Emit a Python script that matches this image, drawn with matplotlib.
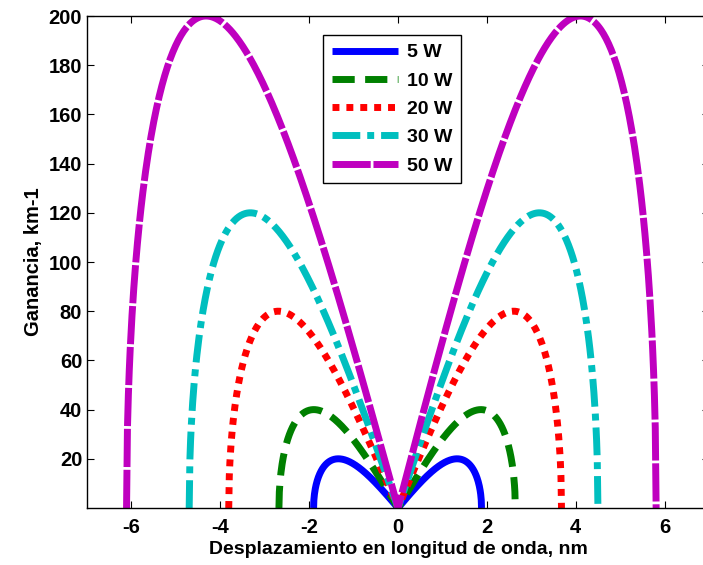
import matplotlib
matplotlib.use("Agg")
import matplotlib.pyplot as plt
import numpy as np

# pump powers and the measured gain lobes (left / right cutoff in nm, peak gain in km-1)
LABELS = ["5 W", "10 W", "20 W", "30 W", "50 W"]
PEAK_GAIN = [20, 40, 80, 120, 200]
CUTOFF_LEFT = [-1.90, -2.68, -3.81, -4.70, -6.11]
CUTOFF_RIGHT = [1.88, 2.64, 3.68, 4.50, 5.81]

COLORS = ["#0000ff", "#008000", "#ff0000", "#00bfbf", "#bf00bf"]
DASHES = [None, (3.2, 1.5), (1.0, 1.0), (4.0, 1.0, 1.0, 1.0), (5.5, 0.4)]

X_TICKS = [-6, -4, -2, 0, 2, 4, 6]
Y_TICKS = [20, 40, 60, 80, 100, 120, 140, 160, 180, 200]


def mi_lobe(x, cutoff, peak):
    # modulation-instability gain shape: |x| * sqrt(xc^2 - x^2), scaled to the peak value
    k = 2.0 * peak / cutoff ** 2
    return k * np.abs(x) * np.sqrt(np.clip(cutoff ** 2 - x ** 2, 0, None))


plt.rcParams["font.family"] = ["Liberation Sans", "DejaVu Sans"]
plt.rcParams["font.weight"] = "bold"
plt.rcParams["axes.unicode_minus"] = False

fig = plt.figure(figsize=(7.03, 5.65), dpi=100)
ax = fig.add_axes([87 / 703, 57 / 565, 622 / 703, 492 / 565])

for label, g0, xl, xr, color, dash in zip(
    LABELS, PEAK_GAIN, CUTOFF_LEFT, CUTOFF_RIGHT, COLORS, DASHES
):
    x_left = np.linspace(xl, 0, 300)
    x_right = np.linspace(0, xr, 300)[1:]
    x = np.concatenate([x_left, x_right])
    g = np.concatenate([mi_lobe(x_left, -xl, g0), mi_lobe(x_right, xr, g0)])
    (line,) = ax.plot(x, g, color=color, lw=5, label=label, solid_capstyle="butt")
    if dash is not None:
        line.set_dashes(dash)
        line.set_dash_capstyle("butt")

ax.set_xlim(-7, 7)
ax.set_ylim(0, 200)
ax.set_xticks(X_TICKS)
ax.set_yticks(Y_TICKS)
ax.tick_params(direction="in", top=True, right=True, labelsize=14.5, length=5, width=0.8)
ax.tick_params(axis="x", pad=7)
for lbl in ax.get_xticklabels() + ax.get_yticklabels():
    lbl.set_fontweight("bold")
for sp in ax.spines.values():
    sp.set_linewidth(1.0)

ax.set_xlabel("Desplazamiento en longitud de onda, nm", fontsize=14, fontweight="bold", labelpad=3)
ax.set_ylabel("Ganancia, km-1", fontsize=14.5, fontweight="bold", labelpad=4)

leg = ax.legend(
    loc="upper left",
    bbox_to_anchor=(323 / 703, 1 - 35 / 565),
    bbox_transform=fig.transFigure,
    borderaxespad=0,
    fancybox=False,
    framealpha=1,
    edgecolor="black",
    handlelength=3.4,
    handletextpad=0.45,
    labelspacing=0.55,
    borderpad=0.45,
    prop={"size": 14, "weight": "bold"},
)
leg.get_frame().set_linewidth(1.0)

fig.savefig("out.png", dpi=100)
